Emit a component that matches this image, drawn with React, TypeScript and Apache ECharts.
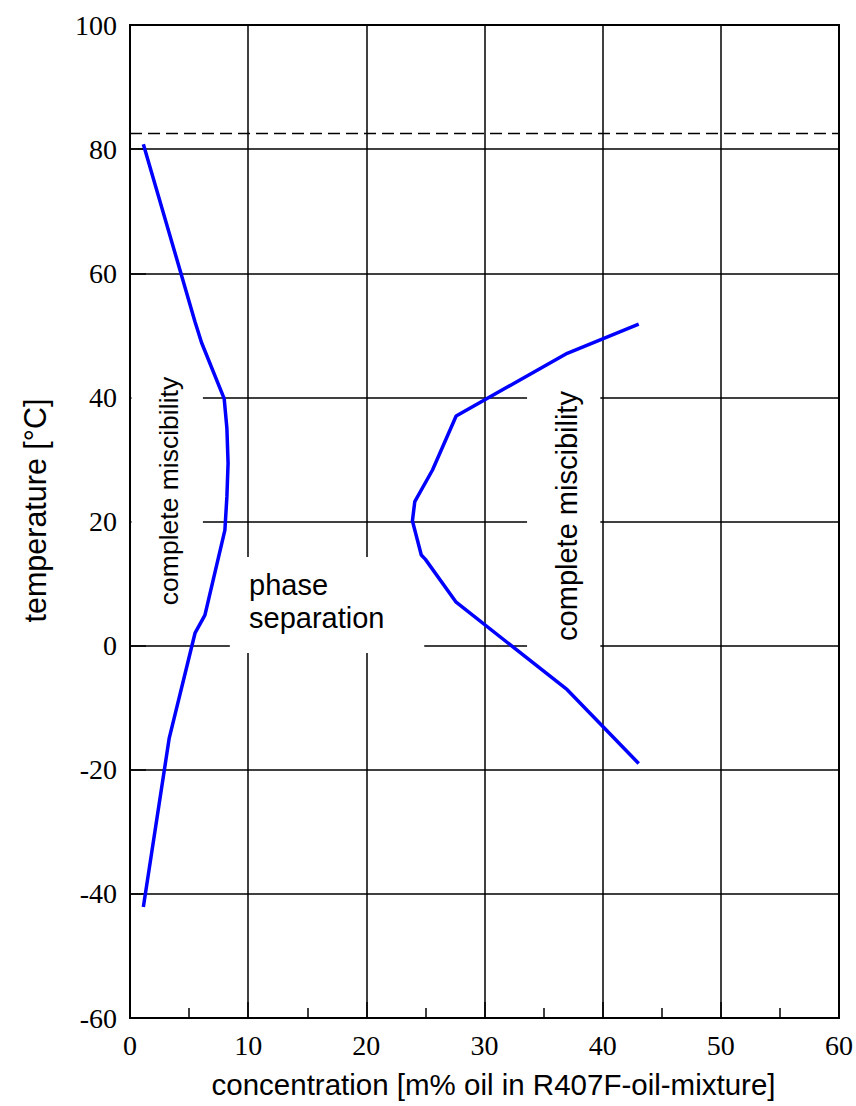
import React, { useEffect, useRef } from "react";
import * as echarts from "echarts";

// concentration [m% oil], temperature [°C]
const leftConc = [1.13, 5.5, 6.06, 7.97, 8.2, 8.3, 8.2, 8.03, 6.34, 5.5, 3.32, 1.13];
const leftTemp = [80.8, 52.2, 48.8, 39.8, 35, 29.4, 24, 18.6, 4.9, 2.0, -14.9, -42.1];

const rightConc = [43.05, 37.0, 27.6, 25.6, 24.1, 23.9, 24.65, 25.0, 27.6, 37.0, 43.05];
const rightTemp = [51.8, 47.1, 37.0, 28.3, 23.2, 20.1, 14.6, 13.9, 7.0, -7.1, -19.0];

const criticalTemp = 82.5;

const xTicks = { min: 0, max: 60, interval: 10 };
const yTicks = { min: -60, max: 100, interval: 20 };

const xName = "concentration [m% oil in R407F-oil-mixture]";
const yName = "temperature [°C]";
const labelMiscibility = "complete miscibility";
const labelPhase = "phase\nseparation";

// white label backgrounds, in data coordinates [x1, y1, x2, y2]
const boxLeft = [0.12, 44.5, 6.17, 5.7];
const boxPhase = [8.45, 14.3, 24.9, -1.2];
const boxRight = [33.6, 42.0, 39.8, -1.0];

export default function App() {
  const ref = useRef<HTMLDivElement>(null);
  useEffect(() => {
    if (!ref.current) return;
    const chart = echarts.init(ref.current, undefined, { renderer: "svg" });
    const axisCommon = {
      type: "value" as const,
      axisLine: { show: true, onZero: false, lineStyle: { color: "#000", width: 2 } },
      axisTick: { show: true, inside: true, length: 16, lineStyle: { color: "#000", width: 1.5 } },
      splitLine: { show: true, lineStyle: { color: "#000", width: 1.5 } },
      axisLabel: {
        color: "#000",
        fontFamily: "Liberation Serif",
        fontSize: 28,
      },
      nameTextStyle: { color: "#000", fontFamily: "Liberation Sans", fontSize: 29.5 },
    };
    chart.setOption({
      animation: false,
      backgroundColor: "#fff",
      grid: {
        left: 130,
        top: 25,
        right: 16,
        bottom: 88,
        show: true,
        borderColor: "#000",
        borderWidth: 2,
        backgroundColor: "transparent",
      },
      xAxis: {
        ...axisCommon,
        ...xTicks,
        name: xName,
        nameLocation: "middle",
        nameGap: 51,
        nameTextStyle: { ...axisCommon.nameTextStyle, padding: [0, 0, 0, 18] },
        minorTick: { show: true, splitNumber: 2, length: 10, lineStyle: { color: "#000", width: 1.5 } },
        axisLabel: { ...axisCommon.axisLabel, margin: 13 },
      },
      yAxis: {
        ...axisCommon,
        ...yTicks,
        name: yName,
        nameLocation: "middle",
        nameGap: 80,
        nameRotate: 90,
        nameTextStyle: { ...axisCommon.nameTextStyle, fontSize: 30.5, padding: [0, 0, 0, 22] },
        axisLabel: { ...axisCommon.axisLabel, margin: 13 },
      },
      series: [
        {
          type: "line",
          name: "left",
          data: leftConc.map((c, i) => [c, leftTemp[i]]),
          showSymbol: false,
          symbol: "none",
          lineStyle: { color: "#0000ff", width: 3.5 },
          z: 3,
          markLine: {
            silent: true,
            symbol: "none",
            label: { show: false },
            lineStyle: { color: "#000", width: 1.4, type: [12, 6] },
            data: [{ yAxis: criticalTemp }],
          },
        },
        {
          type: "line",
          name: "right",
          data: rightConc.map((c, i) => [c, rightTemp[i]]),
          showSymbol: false,
          symbol: "none",
          lineStyle: { color: "#0000ff", width: 3.5 },
          z: 3,
        },
      ],
    });

    const toPx = (x: number, y: number) =>
      chart.convertToPixel({ xAxisIndex: 0, yAxisIndex: 0 }, [x, y]) as number[];
    const rectOf = (b: number[]) => {
      const p1 = toPx(b[0], b[1]);
      const p2 = toPx(b[2], b[3]);
      return {
        type: "rect",
        z: 1,
        shape: { x: p1[0], y: p1[1], width: p2[0] - p1[0], height: p2[1] - p1[1] },
        style: { fill: "#fff" },
        silent: true,
      };
    };

    chart.setOption({
      graphic: [
        rectOf(boxLeft),
        rectOf(boxPhase),
        rectOf(boxRight),
        {
          type: "text",
          z: 5,
          x: 169,
          y: 491,
          rotation: Math.PI / 2,
          style: {
            text: labelMiscibility,
            fill: "#000",
            font: '26.5px "Liberation Sans"',
            align: "center",
            verticalAlign: "middle",
          },
        },
        {
          type: "text",
          z: 5,
          x: 567,
          y: 516,
          rotation: Math.PI / 2,
          style: {
            text: labelMiscibility,
            fill: "#000",
            font: '29px "Liberation Sans"',
            align: "center",
            verticalAlign: "middle",
          },
        },
        {
          type: "text",
          z: 5,
          x: 249,
          y: 601,
          style: {
            text: labelPhase,
            fill: "#000",
            font: '29px "Liberation Sans"',
            lineHeight: 33,
            align: "left",
            verticalAlign: "middle",
          },
        },
      ],
    });
    return () => chart.dispose();
  }, []);
  return (
    <div
      ref={ref}
      style={{ position: "fixed", left: 0, top: 0, width: 856, height: 1106, background: "#fff" }}
    />
  );
}
